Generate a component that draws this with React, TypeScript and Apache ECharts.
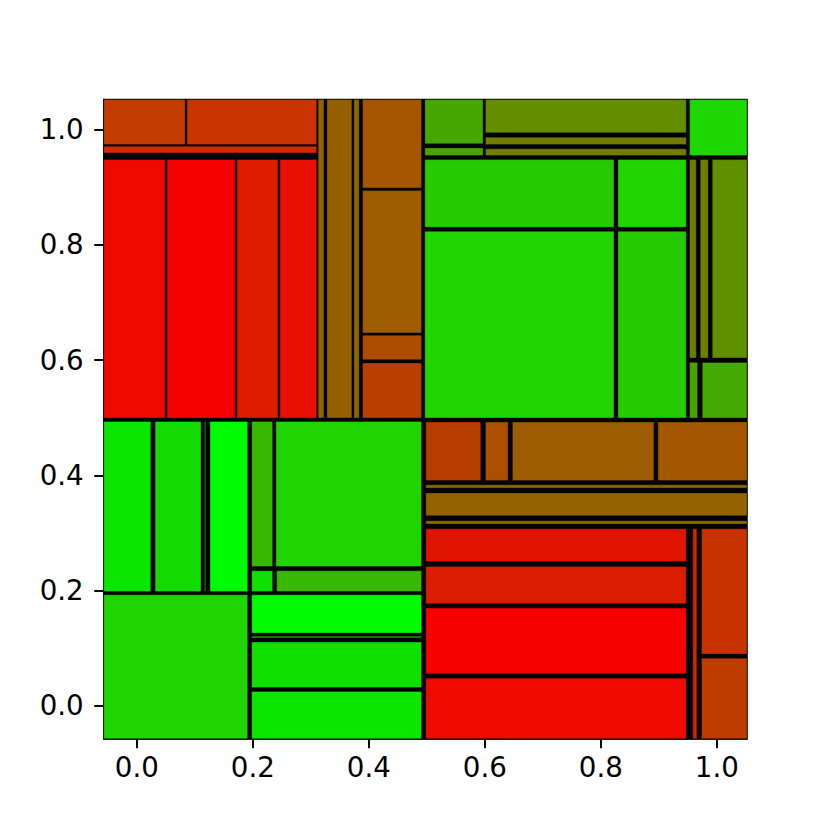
import React, { useEffect, useRef } from "react";
import * as echarts from "echarts";

// Tile extents in data coordinates: [x0, x1, y0, y1]
const topLeftTiles: number[][] = [
  [-0.057, 0.0832, 0.974, 1.052],
  [0.0866, 0.31, 0.974, 1.052],
  [-0.057, 0.31, 0.9595, 0.971],
  [-0.057, 0.0487, 0.4995, 0.9479],
  [0.0522, 0.1693, 0.4995, 0.9479],
  [0.1728, 0.2434, 0.4995, 0.9479],
  [0.2468, 0.31, 0.4995, 0.9479],
  [0.3128, 0.3226, 0.4995, 1.052],
  [0.3278, 0.3708, 0.4995, 1.052],
  [0.3743, 0.3834, 0.4995, 1.052],
  [0.3893, 0.4909, 0.8988, 1.052],
  [0.3893, 0.4909, 0.6471, 0.8941],
  [0.3893, 0.4909, 0.6007, 0.6429],
  [0.3893, 0.4909, 0.4995, 0.595],
];
const topLeftColors = [
  "#C33C00", "#C93300", "#D42800", "#EE0A00", "#F70200", "#DD1C00", "#E81000",
  "#906400", "#956000", "#8C6800", "#A65600", "#A05C00", "#AE4D00", "#B83F00",
];

const topRightTiles: number[][] = [
  [0.4966, 0.597, 0.9752, 1.052],
  [0.4966, 0.597, 0.9549, 0.9682],
  [0.6011, 0.9473, 0.9943, 1.052],
  [0.6011, 0.9473, 0.974, 0.9866],
  [0.6011, 0.9473, 0.9549, 0.9665],
  [0.953, 1.052, 0.9549, 1.052],
  [0.4966, 0.8226, 0.8304, 0.9479],
  [0.8295, 0.9473, 0.8304, 0.9479],
  [0.4966, 0.8226, 0.4995, 0.8234],
  [0.8295, 0.9473, 0.4995, 0.8234],
  [0.953, 0.9645, 0.6036, 0.9479],
  [0.9714, 0.9852, 0.6036, 0.9479],
  [0.9921, 1.052, 0.6036, 0.9479],
  [0.953, 0.9668, 0.4995, 0.596],
  [0.9749, 1.052, 0.4995, 0.596],
];
const topRightColors = [
  "#46A700", "#4BA300", "#648E00", "#727D00", "#727D00", "#1DD700",
  "#25CA00", "#20D400", "#20D500", "#25CA00",
  "#6E7F00", "#6E7F00", "#5E9000", "#4AA400", "#44A900",
];

const bottomLeftTiles: number[][] = [
  [-0.057, 0.0241, 0.1984, 0.4936],
  [0.0315, 0.1107, 0.1984, 0.4936],
  [0.1168, 0.1186, 0.1984, 0.4936],
  [0.1262, 0.1912, 0.1984, 0.4936],
  [0.1981, 0.2342, 0.2418, 0.4936],
  [0.2399, 0.4909, 0.2418, 0.4936],
  [0.1981, 0.2342, 0.1984, 0.2344],
  [0.2411, 0.4909, 0.1984, 0.2344],
  [-0.057, 0.1912, -0.057, 0.1927],
  [0.1981, 0.4909, 0.1262, 0.1927],
  [0.1981, 0.4909, 0.1181, 0.1207],
  [0.1981, 0.4909, 0.0318, 0.1106],
  [0.1981, 0.4909, -0.057, 0.0248],
];
const bottomLeftColors = [
  "#0AE600", "#14DC00", "#14DC00", "#00FA00", "#38B800", "#20D400", "#10E000", "#38B800",
  "#20D400", "#00FA00", "#10E000", "#10E000", "#0AE600",
];

const bottomRightTiles: number[][] = [
  [0.4983, 0.593, 0.3911, 0.4925],
  [0.6011, 0.64, 0.3911, 0.4925],
  [0.6476, 0.8915, 0.3911, 0.4925],
  [0.8984, 1.052, 0.3911, 0.4925],
  [0.4983, 1.052, 0.378, 0.3837],
  [0.4983, 1.052, 0.3299, 0.3693],
  [0.4983, 1.052, 0.3155, 0.3212],
  [0.4983, 0.9473, 0.2505, 0.3073],
  [0.4983, 0.9473, 0.1771, 0.2418],
  [0.4983, 0.9473, 0.0556, 0.1696],
  [0.4983, 0.9473, -0.057, 0.0481],
  [0.9587, 0.9655, -0.057, 0.3073],
  [0.9736, 1.052, 0.0898, 0.3073],
  [0.9736, 1.052, -0.057, 0.0828],
];
const bottomRightColors = [
  "#B83E00", "#AC5000", "#A05C00", "#A45800", "#8A6600", "#956200", "#8A6600",
  "#E01400", "#DC1C00", "#F70200", "#EE0A00", "#D82400", "#C83200", "#BE3C00",
];

const tickValues = [0, 0.2, 0.4, 0.6, 0.8, 1.0];
const axisMin = -0.057;
const axisMax = 1.052;

export default function App() {
  const ref = useRef<HTMLDivElement>(null);
  useEffect(() => {
    if (!ref.current) return;
    const chart = echarts.init(ref.current, null, { renderer: "svg" });
    const tiles = [...topLeftTiles, ...topRightTiles, ...bottomLeftTiles, ...bottomRightTiles];
    const colors = [...topLeftColors, ...topRightColors, ...bottomLeftColors, ...bottomRightColors];
    const data = tiles.map((t, i) => ({ value: [t[0], t[1], t[2], t[3]], itemStyle: { color: colors[i] } }));
    const axisCommon = {
      type: "value" as const,
      min: axisMin,
      max: axisMax,
      splitLine: { show: false },
      axisLine: { show: true, onZero: false, lineStyle: { color: "#000", width: 1.5 } },
      axisTick: {
        show: true,
        inside: false,
        length: 9.5,
        lineStyle: { color: "#000", width: 2 },
        customValues: tickValues,
      },
    };
    chart.setOption({
      animation: false,
      backgroundColor: "#fff",
      grid: {
        left: 103.75,
        right: 83,
        top: 99.6,
        bottom: 91.3,
        show: true,
        backgroundColor: "#000",
        borderColor: "#000",
        borderWidth: 1.5,
        containLabel: false,
      },
      xAxis: {
        ...axisCommon,
        axisLabel: {
          customValues: tickValues,
          formatter: (v: number) => v.toFixed(1),
          fontFamily: "DejaVu Sans",
          fontSize: 27.7,
          color: "#000",
          margin: 15,
        },
      },
      yAxis: {
        ...axisCommon,
        axisLabel: {
          customValues: tickValues,
          formatter: (v: number) => v.toFixed(1),
          fontFamily: "DejaVu Sans",
          fontSize: 27.7,
          color: "#000",
          margin: 20,
        },
      },
      series: [
        {
          type: "custom",
          encode: { x: [0, 1], y: [2, 3] },
          data,
          renderItem: (params: any, api: any) => {
            const p0 = api.coord([api.value(0), api.value(3)]);
            const p1 = api.coord([api.value(1), api.value(2)]);
            return {
              type: "rect",
              shape: { x: p0[0], y: p0[1], width: p1[0] - p0[0], height: p1[1] - p0[1] },
              style: { fill: api.visual("color"), stroke: "rgba(0,0,0,0.35)", lineWidth: 1 },
            };
          },
        },
      ],
    });
    return () => chart.dispose();
  }, []);
  return (
    <div
      ref={ref}
      style={{ position: "fixed", left: 0, top: 0, width: 830, height: 830 }}
    />
  );
}
